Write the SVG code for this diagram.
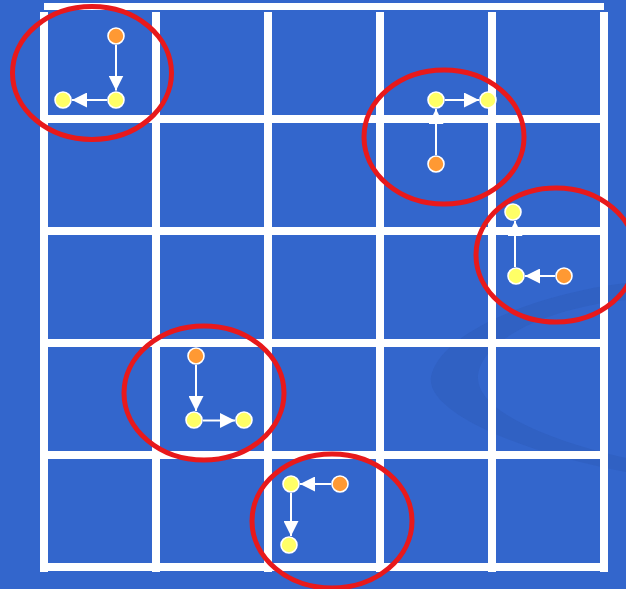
<svg xmlns="http://www.w3.org/2000/svg" width="626" height="589" viewBox="0 0 626 589">
  <style>
    .grid { fill: #FFFFFF; }
    .ring { fill: none; stroke: #E8191B; stroke-width: 5; }
    .conn { stroke: #FFFFFF; stroke-width: 2; fill: none; marker-end: url(#arrow); }
    .src { fill: #FF9933; stroke: #FFFFFF; stroke-width: 1.6; }
    .dst { fill: #FFFF66; stroke: #FFFFFF; stroke-width: 1.6; }
  </style>
  <defs>
    <marker id="arrow" viewBox="0 0 15 15" refX="15" refY="7.5" markerWidth="15" markerHeight="15" markerUnits="userSpaceOnUse" orient="auto">
      <path d="M0,0 L15,7.5 L0,15 Z" fill="#FFFFFF"/>
    </marker>
  </defs>

  <rect x="0" y="0" width="626" height="589" fill="#3366CC"/>
  <path d="M626,283 C545,292 440,330 431,377 C426,412 520,452 626,472 L626,458 C545,440 478,410 478,378 C478,342 545,308 626,300 Z" fill="#2D5BBA" opacity="0.5"/>

  <g id="grid">
    <rect class="grid" x="44" y="3" width="560" height="7"/>
    <rect class="grid" x="44" y="115" width="560" height="8"/>
    <rect class="grid" x="44" y="227" width="560" height="8"/>
    <rect class="grid" x="44" y="339" width="560" height="8"/>
    <rect class="grid" x="44" y="451" width="560" height="8"/>
    <rect class="grid" x="44" y="563" width="560" height="8"/>
    <rect class="grid" x="40" y="12" width="8" height="560"/>
    <rect class="grid" x="152" y="12" width="8" height="560"/>
    <rect class="grid" x="264" y="12" width="8" height="560"/>
    <rect class="grid" x="376" y="12" width="8" height="560"/>
    <rect class="grid" x="488" y="12" width="8" height="560"/>
    <rect class="grid" x="600" y="12" width="8" height="560"/>
  </g>

  <g id="connectors">
    <line class="conn" x1="116" y1="45" x2="116" y2="90.5"/>
    <line class="conn" x1="107" y1="100" x2="72" y2="100"/>
    <line class="conn" x1="436" y1="155" x2="436" y2="109"/>
    <line class="conn" x1="445" y1="100" x2="479" y2="100"/>
    <line class="conn" x1="555" y1="276" x2="525" y2="276"/>
    <line class="conn" x1="515" y1="267" x2="515" y2="221"/>
    <line class="conn" x1="196" y1="365" x2="196" y2="411"/>
    <line class="conn" x1="203" y1="420.5" x2="235" y2="420.5"/>
    <line class="conn" x1="331" y1="484" x2="300" y2="484"/>
    <line class="conn" x1="291" y1="493" x2="291" y2="536"/>
  </g>

  <g id="ring1"><ellipse class="ring" cx="92" cy="73" rx="79.5" ry="66.5"/></g>
  <g id="ring2"><ellipse class="ring" cx="444" cy="137" rx="80" ry="67"/></g>
  <g id="ring3"><ellipse class="ring" cx="556" cy="255" rx="80" ry="67"/></g>
  <g id="ring4"><ellipse class="ring" cx="204" cy="393" rx="80" ry="67"/></g>
  <g id="ring5"><ellipse class="ring" cx="332" cy="521" rx="80" ry="67"/></g>

  <g id="n1a"><circle class="src" cx="116" cy="36" r="8"/></g>
  <g id="n1b"><circle class="dst" cx="116" cy="100" r="8"/></g>
  <g id="n1c"><circle class="dst" cx="63" cy="100" r="8"/></g>

  <g id="n2a"><circle class="src" cx="436" cy="164" r="8"/></g>
  <g id="n2b"><circle class="dst" cx="436" cy="100" r="8"/></g>
  <g id="n2c"><circle class="dst" cx="488" cy="100" r="8"/></g>

  <g id="n3a"><circle class="src" cx="564" cy="276" r="8"/></g>
  <g id="n3b"><circle class="dst" cx="516" cy="276" r="8"/></g>
  <g id="n3c"><circle class="dst" cx="513" cy="212" r="8"/></g>

  <g id="n4a"><circle class="src" cx="196" cy="356" r="8"/></g>
  <g id="n4b"><circle class="dst" cx="194" cy="420" r="8"/></g>
  <g id="n4c"><circle class="dst" cx="244" cy="420" r="8"/></g>

  <g id="n5a"><circle class="src" cx="340" cy="484" r="8"/></g>
  <g id="n5b"><circle class="dst" cx="291" cy="484" r="8"/></g>
  <g id="n5c"><circle class="dst" cx="289" cy="545" r="8"/></g>
</svg>
